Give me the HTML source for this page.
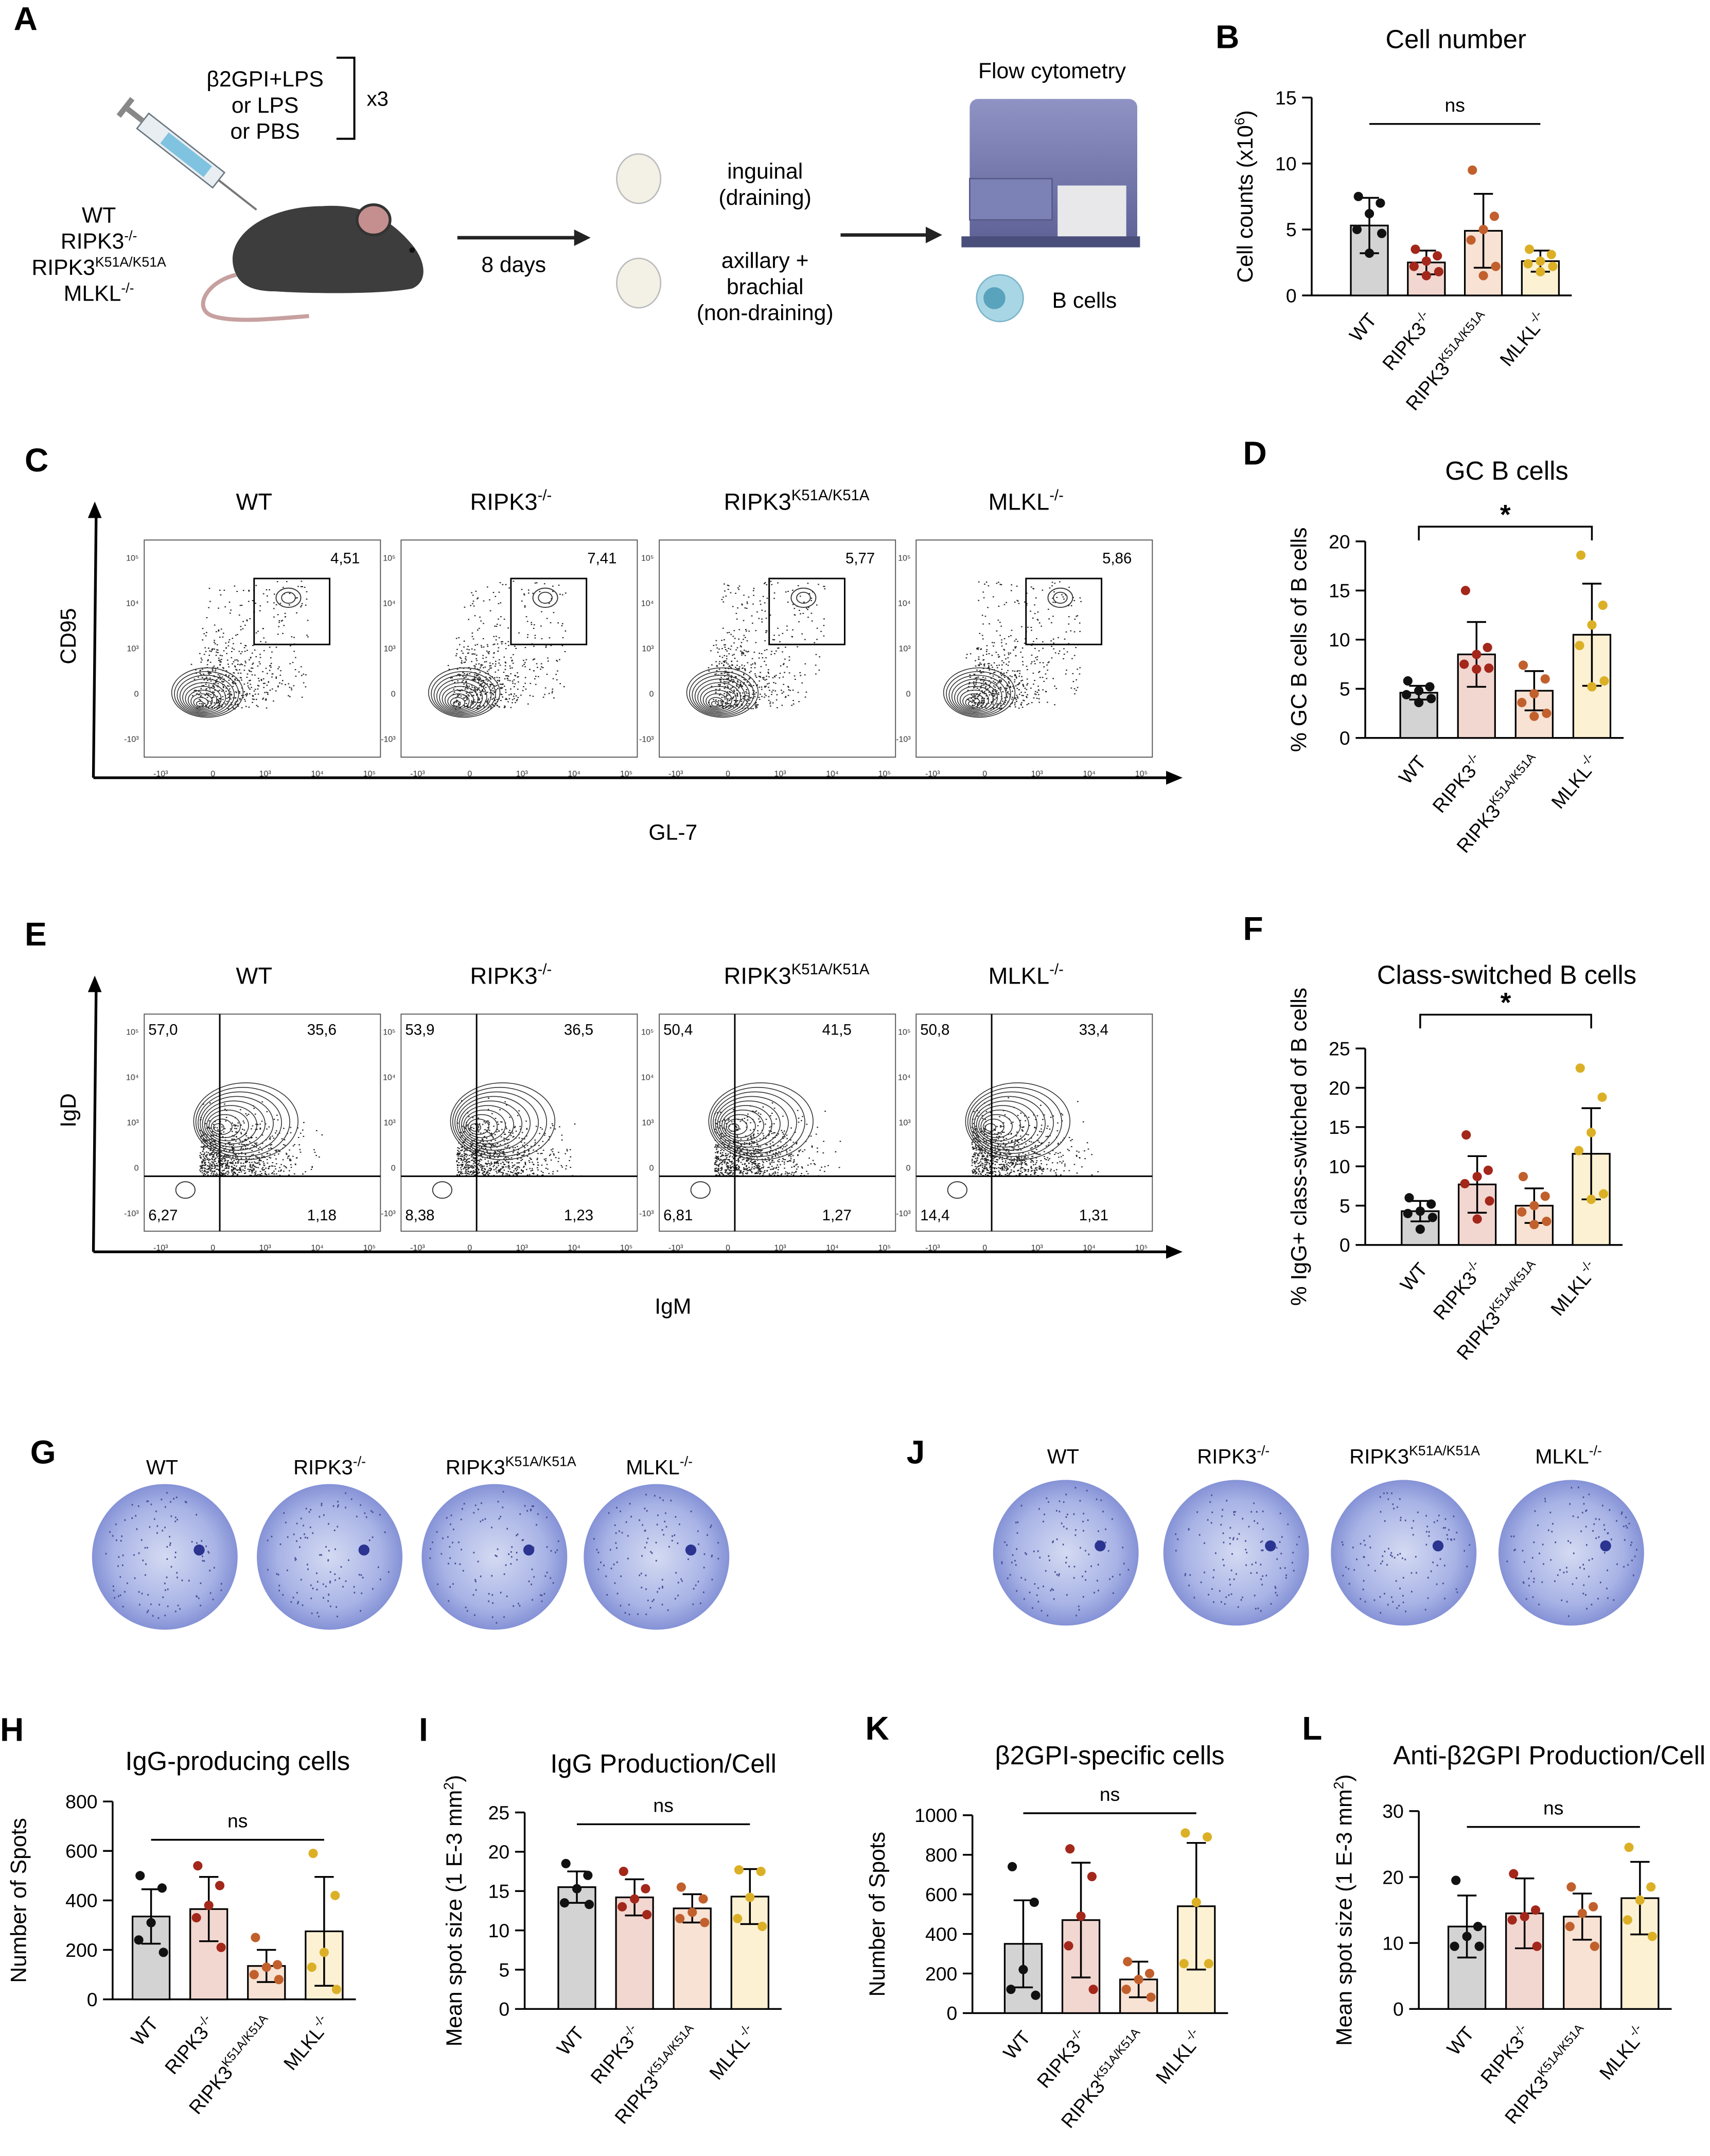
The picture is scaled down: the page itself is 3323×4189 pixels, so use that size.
<!DOCTYPE html>
<html><head><meta charset="utf-8">
<style>
html,body{margin:0;padding:0;background:#fff;}
svg{display:block;font-family:"Liberation Sans",Arial,sans-serif;}
</style></head>
<body>
<svg id="fig" width="3323" height="4189" viewBox="0 0 1245 1569" preserveAspectRatio="none" xmlns="http://www.w3.org/2000/svg">
<defs>
<radialGradient id="well" cx="50%" cy="50%" r="50%">
<stop offset="0%" stop-color="#d4daf2"/><stop offset="70%" stop-color="#a9b4e6"/><stop offset="100%" stop-color="#8592d6"/>
</radialGradient>
<linearGradient id="mach" x1="0" y1="0" x2="0" y2="1"><stop offset="0" stop-color="#8f93c4"/><stop offset="1" stop-color="#5d6196"/></linearGradient>
</defs>
<g id="panelA">
<text x="10" y="22" font-size="24" font-weight="bold">A</text>
<text x="193" y="63" font-size="16" text-anchor="middle">β2GPI+LPS</text>
<text x="193" y="82" font-size="16" text-anchor="middle">or LPS</text>
<text x="193" y="101" font-size="16" text-anchor="middle">or PBS</text>
<path d="M245 42 H258 V101 H245" fill="none" stroke="#000" stroke-width="1.5"/>
<text x="267" y="77" font-size="15">x3</text>
<g transform="translate(104,88) rotate(38)">
<rect x="0" y="-7" width="70" height="14" fill="#e8eef2" stroke="#6b7780"/>
<rect x="20" y="-5" width="40" height="10" fill="#7fc3e0"/>
<rect x="-14" y="-2" width="14" height="4" fill="#888"/><rect x="-18" y="-8" width="4" height="16" fill="#888"/>
<line x1="70" y1="0" x2="105" y2="0" stroke="#777" stroke-width="1.5"/>
</g>
<text x="72" y="162" font-size="16" text-anchor="middle">WT</text>
<text x="72" y="181" font-size="16" text-anchor="middle">RIPK3<tspan font-size="10" dy="-6">-/-</tspan></text>
<text x="72" y="200" font-size="16" text-anchor="middle">RIPK3<tspan font-size="10" dy="-6">K51A/K51A</tspan></text>
<text x="72" y="219" font-size="16" text-anchor="middle">MLKL<tspan font-size="10" dy="-6">-/-</tspan></text>
<g>
<path d="M172 200 C160 175 190 150 235 150 C265 148 285 160 300 178 C310 190 312 205 300 210 C280 214 230 214 200 212 C185 212 176 208 172 200Z" fill="#3d3d3d"/>
<ellipse cx="272" cy="160" rx="12" ry="11" fill="#c58f8f" stroke="#333" stroke-width="2"/>
<path d="M172 200 C150 205 140 225 155 230 C170 235 200 232 225 230" fill="none" stroke="#c7a0a0" stroke-width="3"/>
<circle cx="300" cy="182" r="2" fill="#111"/>
</g>
<line x1="333" y1="173" x2="420" y2="173" stroke="#222" stroke-width="2.5"/>
<polygon points="430,173 418,167 418,179" fill="#222"/>
<text x="374" y="198" font-size="16" text-anchor="middle">8 days</text>
<g>
<ellipse cx="465" cy="130" rx="16" ry="18" fill="#f3f1e5" stroke="#bbb"/>
<ellipse cx="465" cy="206" rx="16" ry="18" fill="#f3f1e5" stroke="#bbb"/>
</g>
<text x="557" y="130" font-size="16" text-anchor="middle">inguinal</text>
<text x="557" y="149" font-size="16" text-anchor="middle">(draining)</text>
<text x="557" y="195" font-size="16" text-anchor="middle">axillary +</text>
<text x="557" y="214" font-size="16" text-anchor="middle">brachial</text>
<text x="557" y="233" font-size="16" text-anchor="middle">(non-draining)</text>
<line x1="612" y1="171" x2="675" y2="171" stroke="#222" stroke-width="2.5"/>
<polygon points="686,171 674,165 674,177" fill="#222"/>
<text x="766" y="57" font-size="16" text-anchor="middle">Flow cytometry</text>
<g>
<rect x="706" y="72" width="122" height="105" rx="6" fill="url(#mach)"/>
<rect x="706" y="130" width="60" height="30" fill="#7d82b6" stroke="#555a8a"/>
<rect x="770" y="135" width="50" height="40" fill="#e8e8ea"/>
<rect x="700" y="172" width="130" height="8" fill="#4a4e7a"/>
</g>
<circle cx="728" cy="217" r="17" fill="#a9d6e5" stroke="#7bb5c9"/><circle cx="724" cy="217" r="8" fill="#5aa3bd"/>
<text x="766" y="224" font-size="16">B cells</text>
</g>

<g id="flowC"></g>
<g id="flowE"></g>
<g id="wells"></g>
<g id="charts"></g>
</svg>
<script>
// ===== Bar chart data =====
const categories = ["WT","RIPK3-/-","RIPK3K51A/K51A","MLKL-/-"];
const bMeans=[5.3,2.5,4.9,2.6], bSds=[2.1,0.9,2.8,0.8];
const bPts=[[7.5,7,6.2,5,4.7,3.2],[3.5,3,2.6,2.2,1.8,1.5],[9.5,6,5,4.2,2.2,1.5],[3.5,3.1,2.6,2.4,2.2,1.8]];
const dMeans=[4.6,8.5,4.8,10.5], dSds=[0.7,3.3,2,5.2];
const dPts=[[5.8,5.2,4.8,4.4,4.0,3.6],[15,9.2,8.5,7.5,7.1,7],[7.4,6,4.5,3.6,2.5,2.2],[18.6,13.5,11.5,9.4,5.8,5.2]];
const fMeans=[4.3,7.7,5,11.6], fSds=[1.3,3.6,2.2,5.8];
const fPts=[[6,5.2,4.3,4,3.5,2],[14,9.5,8.7,7.8,5.6,3.3],[8.7,6.2,5,4.2,3,2.6],[22.5,18.8,14.3,12,6.5,5.8]];
const hMeans=[335,365,135,275], hSds=[110,130,65,220];
const hPts=[[500,450,310,240,190],[540,460,380,330,210],[250,140,130,100,80],[590,420,190,130,40]];
const iMeans=[15.5,14.2,12.8,14.3], iSds=[2,2.3,1.8,3.5];
const iPts=[[18.5,17,15.3,13.5,13.3],[17.5,15.3,14,13,12],[15.5,14,12.3,11.5,11],[17.7,17.5,14.2,11.5,10.5]];
const kMeans=[350,470,170,540], kSds=[220,290,90,320];
const kPts=[[740,560,220,120,90],[830,690,490,340,120],[260,200,170,120,80],[910,890,560,250,250]];
const lMeans=[12.5,14.5,14,16.8], lSds=[4.7,5.3,3.5,5.5];
const lPts=[[19.5,12.5,11,9.5,9.5],[20.5,15,14,13.5,9.5],[18.5,15.5,14.5,12.5,9.5],[24.5,18.5,16.5,13.5,11]];
const bTicks=[0,5,10,15], dTicks=[0,5,10,15,20], fTicks=[0,5,10,15,20,25], hTicks=[0,200,400,600,800], iTicks=[0,5,10,15,20,25], kTicks=[0,200,400,600,800,1000], lTicks=[0,10,20,30];
// flow quadrant values
const gcValues=["4,51","7,41","5,77","5,86"];
const qUL=["57,0","53,9","50,4","50,8"], qUR=["35,6","36,5","41,5","33,4"], qLL=["6,27","8,38","6,81","14,4"], qLR=["1,18","1,23","1,27","1,31"];

const NS="http://www.w3.org/2000/svg";
function mk(parent,tag,attrs,text){const e=document.createElementNS(NS,tag);for(const k in attrs)e.setAttribute(k,attrs[k]);if(text!==undefined)e.textContent=text;parent.appendChild(e);return e;}
const fills=["#d3d3d3","#f2d6d0","#f8e2d4","#fcf1d2"];
const dots=["#111111","#a3271a","#c1602c","#dcb026"];
function catLabel(g,i,x,y){
  const t=mk(g,"text",{x:x,y:y,"font-size":14,"text-anchor":"end",transform:`rotate(-50 ${x} ${y})`});
  
  
  const base={0:"WT",1:"RIPK3",2:"RIPK3",3:"MLKL"}[i];
  const sup={0:"",1:"-/-",2:"K51A/K51A",3:"-/-"}[i];
  mk(t,"tspan",{},base);
  if(sup){mk(t,"tspan",{"font-size":9,dy:-6},sup);}
}
function barChart(cfg,means,sds,pts,ticks){
  const root=document.getElementById('charts');
  const g=mk(root,"g",{});
  
  
  const max=ticks[ticks.length-1];
  const ys=v=>cfg.y0-(v/max)*(cfg.y0-cfg.yTop);
  const xs=i=>cfg.x0+cfg.first+i*cfg.step;
  const bw=27;
  mk(g,"line",{x1:cfg.x0,y1:cfg.yTop,x2:cfg.x0,y2:cfg.y0,stroke:"#000","stroke-width":1.3});
  mk(g,"line",{x1:cfg.x0,y1:cfg.y0,x2:xs(3)+cfg.step*0.55,y2:cfg.y0,stroke:"#000","stroke-width":1.3});
  ticks.forEach(t=>{const y=ys(t);mk(g,"line",{x1:cfg.x0-7,y1:y,x2:cfg.x0,y2:y,stroke:"#000","stroke-width":1.3});
    const tl=mk(g,"text",{x:cfg.x0-11,y:y+5,"font-size":14,"text-anchor":"end"},String(t));
    
    });
  means.forEach((m,i)=>{
    const x=xs(i);
    const r=mk(g,"rect",{x:x-bw/2,y:ys(m),width:bw,height:cfg.y0-ys(m),fill:fills[i],stroke:"#000","stroke-width":1.2});
    
    
    const lo=Math.max(0,m-sds[i]),hi=m+sds[i];
    mk(g,"line",{x1:x,y1:ys(lo),x2:x,y2:ys(hi),stroke:"#000","stroke-width":1.3});
    mk(g,"line",{x1:x-7,y1:ys(hi),x2:x+7,y2:ys(hi),stroke:"#000","stroke-width":1.3});
    mk(g,"line",{x1:x-7,y1:ys(lo),x2:x+7,y2:ys(lo),stroke:"#000","stroke-width":1.3});
    pts[i].forEach((v,j)=>{
      const off=[-8,8,0,-9,9,0][j%6]*(j===2?0:1);
      const c=mk(g,"circle",{cx:x+off,cy:ys(v),r:3.4,fill:dots[i]});
      
      
    });
    catLabel(g,i,x+6,cfg.y0+18);
  });
  const tt=mk(g,"text",{x:cfg.titleX,y:cfg.titleY,"font-size":19,"text-anchor":"middle"},cfg.title);
  
  
  const yl=(cfg.y0+cfg.yTop)/2;
  const yt=mk(g,"text",{x:cfg.ylX,y:yl,"font-size":16,"text-anchor":"middle",transform:`rotate(-90 ${cfg.ylX} ${yl})`},cfg.ylabel);
  
  
  if(cfg.sup){mk(yt,"tspan",{"font-size":10,dy:-6},cfg.sup);mk(yt,"tspan",{dy:6},")");}
  const sy=ys(cfg.statV);
  if(cfg.star){
    mk(g,"path",{d:`M${xs(0)} ${sy+10} V${sy} H${xs(3)} V${sy+10}`,fill:"none",stroke:"#000","stroke-width":1.3});
    mk(g,"text",{x:(xs(0)+xs(3))/2,y:sy-2,"font-size":20,"text-anchor":"middle","font-weight":"bold"},"*");
  } else {
    mk(g,"line",{x1:xs(0),y1:sy,x2:xs(3),y2:sy,stroke:"#000","stroke-width":1.3});
    mk(g,"text",{x:(xs(0)+xs(3))/2,y:sy-9,"font-size":14,"text-anchor":"middle"},"ns");
  }
  const pl=mk(g,"text",{x:cfg.lx,y:cfg.ly,"font-size":24,"font-weight":"bold"},cfg.label);
  
  
}
barChart({name:"chart-b-cell-number",x0:955,y0:215,yTop:71,first:42,step:41.5,title:"Cell number",titleX:1060,titleY:35,ylabel:"Cell counts (x10",sup:"6",ylX:912,statV:13,star:false,label:"B",lx:885,ly:35},bMeans,bSds,bPts,bTicks);
barChart({name:"chart-d-gc-b-cells",x0:994,y0:537,yTop:394,first:39,step:42,title:"GC B cells",titleX:1097,titleY:349,ylabel:"% GC B cells of B cells",ylX:951,statV:21.5,star:true,label:"D",lx:905,ly:338},dMeans,dSds,dPts,dTicks);
barChart({name:"chart-f-class-switched",x0:994,y0:906,yTop:763,first:40,step:41.5,title:"Class-switched B cells",titleX:1097,titleY:716,ylabel:"% IgG+ class-switched of B cells",ylX:951,statV:29.3,star:true,label:"F",lx:905,ly:684},fMeans,fSds,fPts,fTicks);
barChart({name:"chart-h-igg-producing",x0:82,y0:1455,yTop:1311,first:28,step:42,title:"IgG-producing cells",titleX:173,titleY:1288,ylabel:"Number of Spots",ylX:19,statV:645,star:false,label:"H",lx:0,ly:1267},hMeans,hSds,hPts,hTicks);
barChart({name:"chart-i-igg-production",x0:382,y0:1462,yTop:1319,first:38,step:42,title:"IgG Production/Cell",titleX:483,titleY:1290,ylabel:"Mean spot size (1 E-3 mm",sup:"2",ylX:336,statV:23.5,star:false,label:"I",lx:305,ly:1267},iMeans,iSds,iPts,iTicks);
barChart({name:"chart-k-b2gpi-specific",x0:708,y0:1465,yTop:1321,first:37,step:42,title:"β2GPI-specific cells",titleX:808,titleY:1284,ylabel:"Number of Spots",ylX:644,statV:1010,star:false,label:"K",lx:630,ly:1266},kMeans,kSds,kPts,kTicks);
barChart({name:"chart-l-anti-b2gpi-production",x0:1033,y0:1462,yTop:1318,first:35,step:42,title:"Anti-β2GPI Production/Cell",titleX:1128,titleY:1284,ylabel:"Mean spot size (1 E-3 mm",sup:"2",ylX:984,statV:27.6,star:false,label:"L",lx:948,ly:1266},lMeans,lSds,lPts,lTicks);

// deterministic pseudo-random for decorative cytometry scatter
let seed=7;function rnd(){seed=(seed*16807)%2147483647;return seed/2147483647;}
function gauss(){return (rnd()+rnd()+rnd()-1.5)/1.5;}
const geno=[["WT",""],["RIPK3","-/-"],["RIPK3","K51A/K51A"],["MLKL","-/-"]];
const px=[105,292,480,667], pw=172;
function flowPanel(gid,top,letter,xlab,ylab,isC){
  const root=document.getElementById(gid);
  const g=mk(root,"g",{});
  
  
  mk(g,"text",{x:18,y:top-50,"font-size":24,"font-weight":"bold"},letter);
  mk(g,"line",{x1:68,y1:top+173,x2:70,y2:top-18,stroke:"#000","stroke-width":2});
  mk(g,"polygon",{points:`69,${top-28} 64,${top-16} 74,${top-16}`});
  mk(g,"line",{x1:68,y1:top+173,x2:850,y2:top+173,stroke:"#000","stroke-width":2});
  mk(g,"polygon",{points:`861,${top+173} 849,${top+168} 849,${top+178}`});
  mk(g,"text",{x:490,y:top+218,"font-size":16,"text-anchor":"middle"},xlab);
  const yy=top+70;
  mk(g,"text",{x:55,y:yy,"font-size":16,"text-anchor":"middle",transform:`rotate(-90 55 ${yy})`},ylab);
  px.forEach((x0,i)=>{
    const h=158,y0=top;
    const tt=mk(g,"text",{x:x0+(i==2?100:80),y:top-22,"font-size":17,"text-anchor":"middle"},geno[i][0]);
    if(geno[i][1])mk(tt,"tspan",{"font-size":11,dy:-7},geno[i][1]);
    mk(g,"rect",{x:x0,y:y0,width:pw,height:h,fill:"none",stroke:"#555","stroke-width":0.7});
    ["10⁵","10⁴","10³","0","-10³"].forEach((l,k)=>{mk(g,"text",{x:x0-4,y:y0+15+k*33,"font-size":6,"text-anchor":"end",fill:"#333"},l);});
    ["-10³","0","10³","10⁴","10⁵"].forEach((l,k)=>{mk(g,"text",{x:x0+12+k*38,y:y0+h+14,"font-size":6,"text-anchor":"middle",fill:"#333"},l);});
    let d="";
    const n=isC?600:800;
    for(let k=0;k<n;k++){
      let cx,cy;
      if(isC){
        if(k%3===0){cx=x0+45+rnd()*75;cy=y0+30+rnd()*85;}
        else{cx=x0+40+Math.abs(gauss())*70+gauss()*10;cy=y0+h-35-Math.abs(gauss())*70;}
      } else {cx=x0+40+Math.abs(gauss())*100;cy=y0+h-40-Math.abs(gauss())*60;}
      if(cx<x0+2||cx>x0+pw-2||cy<y0+2||cy>y0+h-2)continue;
      d+=`M${cx.toFixed(1)} ${cy.toFixed(1)}h1`;
    }
    mk(g,"path",{d:d,stroke:"#222","stroke-width":0.8});
    const cx=x0+(isC?40:52), cy=y0+h-(isC?38:75);
    for(let k=1;k<=10;k++){
      if(isC)mk(g,"ellipse",{cx:cx+k*0.6,cy:cy-k*0.9,rx:k*2.6,ry:k*1.8,fill:"none",stroke:"#333","stroke-width":0.6});
      else mk(g,"ellipse",{cx:cx+k*2.2,cy:cy-k*0.5,rx:k*3.8,ry:k*2.8,fill:"none",stroke:"#333","stroke-width":0.6});
    }
    if(isC){
      mk(g,"ellipse",{cx:x0+105,cy:y0+42,rx:9,ry:7,fill:"none",stroke:"#333","stroke-width":0.7});
      mk(g,"ellipse",{cx:x0+105,cy:y0+42,rx:5,ry:4,fill:"none",stroke:"#333","stroke-width":0.7});
      mk(g,"rect",{x:x0+80,y:y0+28,width:55,height:48,fill:"none",stroke:"#000","stroke-width":1.1});
      const v=mk(g,"text",{x:x0+157,y:y0+17,"font-size":11,"text-anchor":"end"},gcValues[i]);
      
      
    } else {
      mk(g,"ellipse",{cx:x0+30,cy:y0+h-30,rx:7,ry:6,fill:"none",stroke:"#333","stroke-width":0.7});
      mk(g,"line",{x1:x0+55,y1:y0,x2:x0+55,y2:y0+h,stroke:"#000","stroke-width":1.1});
      mk(g,"line",{x1:x0,y1:y0+118,x2:x0+pw,y2:y0+118,stroke:"#000","stroke-width":1.1});
      mk(g,"text",{x:x0+3,y:y0+15,"font-size":11},qUL[i]);
      mk(g,"text",{x:x0+140,y:y0+15,"font-size":11,"text-anchor":"end"},qUR[i]);
      mk(g,"text",{x:x0+3,y:y0+150,"font-size":11},qLL[i]);
      mk(g,"text",{x:x0+140,y:y0+150,"font-size":11,"text-anchor":"end"},qLR[i]);
    }
  });
}
flowPanel("flowC",393,"C","GL-7","CD95",true);
flowPanel("flowE",738,"E","IgM","IgD",false);

// ELISpot wells
(function(){
  const root=document.getElementById('wells');
  const sets=[{x:[120,240,360,478],y:1133,ty:1073,tx:[118,240,372,480],L:"G",lx:22},{x:[776,900,1022,1144],y:1130,ty:1065,tx:[774,898,1030,1142],L:"J",lx:660}];
  sets.forEach(s=>{
    mk(root,"text",{x:s.lx,y:1065,"font-size":24,"font-weight":"bold"},s.L);
    s.x.forEach((x,i)=>{
      const c=mk(root,"circle",{cx:x,cy:s.y,r:53,fill:"url(#well)"});
      
      
      let d="";for(let k=0;k<110;k++){const a=rnd()*6.283,r=Math.sqrt(rnd())*48;d+=`M${(x+r*Math.cos(a)).toFixed(1)} ${(s.y+r*Math.sin(a)).toFixed(1)}h1`;}
      mk(root,"path",{d:d,stroke:"#4a4f95","stroke-width":1.2});
      mk(root,"circle",{cx:x+25,cy:s.y-5,r:4,fill:"#2b3490"});
      const t=mk(root,"text",{x:s.tx[i],y:s.ty,"font-size":15,"text-anchor":"middle"},geno[i][0]);
      if(geno[i][1])mk(t,"tspan",{"font-size":10,dy:-6},geno[i][1]);
    });
  });
})();
</script>
</body></html>
